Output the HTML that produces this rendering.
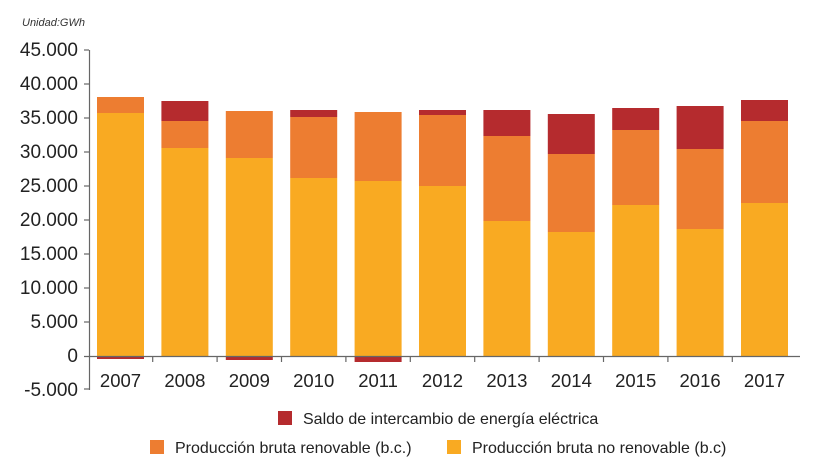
<!DOCTYPE html>
<html><head><style>body{margin:0;background:#fff}svg{display:block;font-family:"Liberation Sans",sans-serif}</style></head><body>
<svg width="813" height="466" viewBox="0 0 813 466">
<text x="22" y="26" font-size="11" font-style="italic" fill="#333">Unidad:GWh</text>
<g font-size="19" fill="#222" text-anchor="end">
<text x="78" y="56">45.000</text><text x="78" y="90">40.000</text><text x="78" y="124">35.000</text><text x="78" y="158">30.000</text><text x="78" y="192">25.000</text><text x="78" y="226">20.000</text><text x="78" y="260">15.000</text><text x="78" y="294">10.000</text><text x="78" y="328">5.000</text><text x="78" y="362">0</text><text x="78" y="396">-5.000</text>
</g>
<g stroke="#666" stroke-width="1.2">
<line x1="89.5" y1="50" x2="89.5" y2="390"/>
<line x1="84" y1="50" x2="89" y2="50"/><line x1="84" y1="84" x2="89" y2="84"/><line x1="84" y1="118" x2="89" y2="118"/><line x1="84" y1="152" x2="89" y2="152"/><line x1="84" y1="186" x2="89" y2="186"/><line x1="84" y1="220" x2="89" y2="220"/><line x1="84" y1="254" x2="89" y2="254"/><line x1="84" y1="288" x2="89" y2="288"/><line x1="84" y1="322" x2="89" y2="322"/><line x1="84" y1="389" x2="89" y2="389"/>
</g>
<g id="bars"></g>
<line x1="84" y1="356.5" x2="800" y2="356.5" stroke="#666" stroke-width="1.2"/>
<g id="ticks" stroke="#666" stroke-width="1.2"></g>
<g id="labels" font-size="18.5" fill="#222" text-anchor="middle"></g>
<rect x="278" y="411" width="14" height="14" fill="#b52b2e"/>
<text x="303" y="424" font-size="16" fill="#222">Saldo de intercambio de energía eléctrica</text>
<rect x="150" y="440" width="14" height="14" fill="#ed7d31"/>
<text x="175" y="453" font-size="16" fill="#222">Producción bruta renovable (b.c.)</text>
<rect x="447" y="440" width="14" height="14" fill="#f9aa22"/>
<text x="472" y="453" font-size="16" fill="#222">Producción bruta no renovable (b.c)</text>
</svg>
<script>
var d=[[2007,113,97,null,359],[2008,148,121,101],[2009,158,111,null,360],[2010,178,117,110],[2011,181,112,null,362],[2012,186,115,110],[2013,221,136,110],[2014,232,154,114],[2015,205,130,108],[2016,229,149,106],[2017,203,121,100]];
var ns="http://www.w3.org/2000/svg",b=document.getElementById('bars'),t=document.getElementById('ticks'),l=document.getElementById('labels');
function r(x,y,h,c){var e=document.createElementNS(ns,'rect');e.setAttribute('x',x);e.setAttribute('y',y);e.setAttribute('width',47);e.setAttribute('height',h);e.setAttribute('fill',c);b.appendChild(e);}
d.forEach(function(v,i){var x=97+i*64.4;
r(x,v[1],356-v[1],'#f9aa22');r(x,v[2],v[1]-v[2],'#ed7d31');
if(v[3])r(x,v[3],v[2]-v[3],'#b52b2e');
if(v[4])r(x,356,v[4]-356,'#b52b2e');
var tx=document.createElementNS(ns,'text');tx.setAttribute('x',x+23.5);tx.setAttribute('y',387);tx.textContent=v[0];l.appendChild(tx);
var k=document.createElementNS(ns,'line');var kx=x+55.7;k.setAttribute('x1',kx);k.setAttribute('x2',kx);k.setAttribute('y1',357);k.setAttribute('y2',362);if(i<10)t.appendChild(k);});
</script>
</body></html>
